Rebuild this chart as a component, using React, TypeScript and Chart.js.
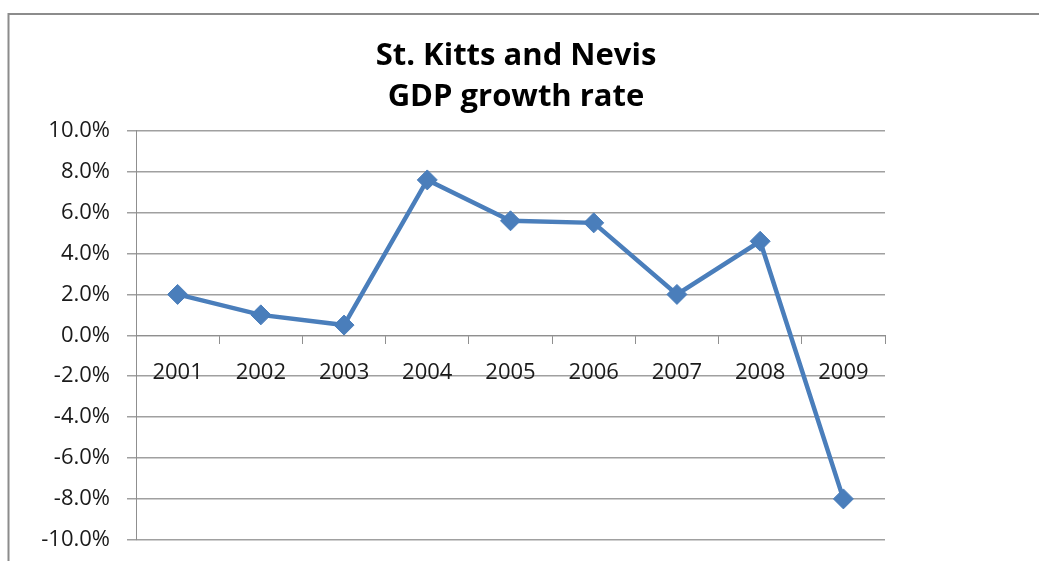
import React, { useEffect, useRef } from "react";
import { Chart, registerables } from "chart.js";

Chart.register(...registerables);

const years = ["2001", "2002", "2003", "2004", "2005", "2006", "2007", "2008", "2009"];
const growth = [2.0, 1.0, 0.5, 7.6, 5.6, 5.5, 2.0, 4.6, -8.0];
const titleLines = ["St. Kitts and Nevis", "GDP growth rate"];
const yMin = -10;
const yMax = 10;
const yStep = 2;

const frame = {
  id: "frame",
  afterDraw(chart: any) {
    const ctx = chart.ctx;
    ctx.save();
    ctx.strokeStyle = "#8c8c8c";
    ctx.lineWidth = 2;
    ctx.beginPath();
    ctx.moveTo(8.5, chart.height);
    ctx.lineTo(8.5, 14);
    ctx.lineTo(chart.width, 14);
    ctx.stroke();
    ctx.restore();
  },
};

export default function App() {
  const ref = useRef<HTMLCanvasElement>(null);
  useEffect(() => {
    if (!ref.current) return;
    const font = "'Open Sans', 'DejaVu Sans', sans-serif";
    const chart = new Chart(ref.current, {
      type: "line",
      data: {
        labels: years,
        datasets: [
          {
            label: "GDP growth rate",
            data: growth,
            borderColor: "#4a7ebb",
            backgroundColor: "#4a7ebb",
            borderWidth: 4.5,
            pointStyle: "rectRot",
            pointRadius: 10,
            pointBorderWidth: 1,
            pointBackgroundColor: "#4a7ebb",
            pointBorderColor: "#4a7ebb",
            tension: 0,
            yAxisID: "y",
          },
        ],
      },
      options: {
        responsive: false,
        animation: false,
        layout: { padding: { left: 0, right: 7, top: 0, bottom: 0 } },
        plugins: {
          legend: { display: false },
          tooltip: { enabled: false },
          title: {
            display: true,
            text: titleLines,
            color: "#000",
            font: { family: font, size: 31, weight: "bold", lineHeight: 1.32 },
            padding: { top: 36, bottom: 13 },
          },
        },
        scales: {
          x: {
            position: { y: 0 } as any,
            offset: true,
            grid: {
              display: true,
              offset: true,
              drawOnChartArea: false,
              drawTicks: true,
              tickLength: 8,
              color: "#8f8f8f",
              lineWidth: 1,
            },
            border: { display: true, color: "#8f8f8f", width: 1 },
            ticks: {
              color: "#1a1a1a",
              font: { family: font, size: 22 },
              padding: 16,
              maxRotation: 0,
              autoSkip: false,
            },
          },
          y: {
            min: yMin,
            max: yMax,
            afterFit: (scale: any) => {
              scale.width = 136;
            },
            grid: {
              color: "#a0a0a0",
              lineWidth: 1.5,
              drawTicks: true,
              tickLength: 9,
            },
            border: { display: true, color: "#8f8f8f", width: 1 },
            ticks: {
              stepSize: yStep,
              color: "#1a1a1a",
              font: { family: font, size: 22 },
              padding: 17,
              callback: (v: any) => Number(v).toFixed(1) + "%",
            },
          },
          yR: {
            type: "linear",
            position: "right",
            afterFit: (scale: any) => {
              scale.width = 147;
            },
            grid: { display: false, drawOnChartArea: false },
            border: { display: false },
            ticks: { display: false },
          },
        },
      },
      plugins: [frame],
    });
    return () => chart.destroy();
  }, []);
  return (
    <div
      style={{
        position: "absolute",
        left: 0,
        top: 0,
        width: 1039,
        height: 561,
        overflow: "hidden",
        background: "#fff",
      }}
    >
      <canvas ref={ref} width={1039} height={570} style={{ display: "block" }} />
    </div>
  );
}
